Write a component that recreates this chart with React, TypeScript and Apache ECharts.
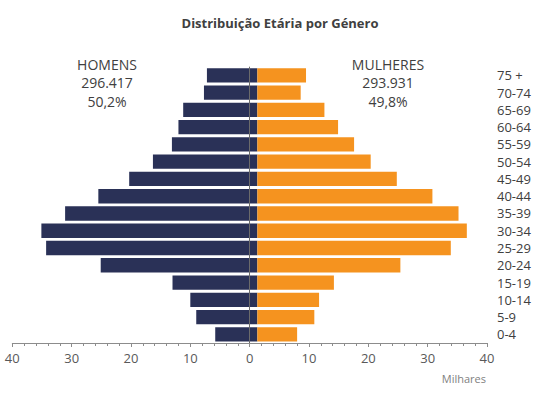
import React, { useEffect, useRef } from "react";
import * as echarts from "echarts";

const categories = ["0-4", "5-9", "10-14", "15-19", "20-24", "25-29", "30-34", "35-39", "40-44", "45-49", "50-54", "55-59", "60-64", "65-69", "70-74", "75 +"];
const men = [7.1, 10.3, 11.3, 14.3, 26.4, 35.6, 36.4, 32.4, 26.8, 21.6, 17.6, 14.4, 13.3, 12.5, 9.0, 8.5];
const women = [6.7, 9.6, 10.4, 12.9, 24.1, 32.6, 35.3, 33.9, 29.5, 23.5, 19.1, 16.3, 13.6, 11.3, 7.3, 8.2];
const tickLabels = { min: -40, max: 40, step: 10 };
const menTotals = ["HOMENS", "296.417", "50,2%"];
const womenTotals = ["MULHERES", "293.931", "49,8%"];
const title = "Distribuição Etária por Género";
const unitLabel = "Milhares";

// the bars in the original meet slightly right of the axis zero
const BAR_ORIGIN = 1.3;

const FONT = "'Open Sans', 'Noto Sans', sans-serif";
const NAVY = "#2a3157";
const ORANGE = "#f5931f";
const TEXT = "#404040";

export default function App() {
  const ref = useRef<HTMLDivElement>(null);
  useEffect(() => {
    if (!ref.current) return;
    const chart = echarts.init(ref.current, null, { renderer: "svg" });
    const base = categories.map(() => BAR_ORIGIN);
    chart.setOption({
      animation: false,
      backgroundColor: "#ffffff",
      textStyle: { fontFamily: FONT },
      title: {
        text: title,
        left: 275,
        top: 11,
        textAlign: "center",
        textStyle: { fontFamily: FONT, fontSize: 13, fontWeight: "bold", color: TEXT },
      },
      grid: { left: 12.3, right: 56, top: 66.7, bottom: 54, outerBoundsMode: "none", containLabel: false },
      xAxis: {
        type: "value",
        min: tickLabels.min,
        max: tickLabels.max,
        interval: tickLabels.step,
        axisLine: { show: true, onZero: false, lineStyle: { color: "#8c8c8c", width: 1 } },
        axisTick: { show: true, length: 4, lineStyle: { color: "#8c8c8c" } },
        minorTick: { show: true, splitNumber: 5, length: 3, lineStyle: { color: "#8c8c8c" } },
        splitLine: { show: false },
        axisLabel: {
          margin: 8,
          fontFamily: FONT,
          fontSize: 13,
          color: "#595959",
          formatter: (v: number) => String(Math.abs(v)),
        },
      },
      yAxis: {
        type: "category",
        data: categories,
        position: "right",
        axisLine: { show: false, onZero: false },
        axisTick: { show: false },
        axisLabel: { margin: 10, align: "left", fontFamily: FONT, fontSize: 13, color: TEXT },
      },
      graphic: [
        {
          type: "text",
          x: 107,
          y: 55,
          style: {
            text: menTotals.join("\n"),
            fontFamily: FONT,
            fontSize: 14,
            lineHeight: 18.5,
            fill: TEXT,
            align: "center",
            verticalAlign: "top",
          },
        },
        {
          type: "text",
          x: 388,
          y: 55,
          style: {
            text: womenTotals.join("\n"),
            fontFamily: FONT,
            fontSize: 14,
            lineHeight: 18.5,
            fill: TEXT,
            align: "center",
            verticalAlign: "top",
          },
        },
        {
          type: "text",
          right: 57,
          top: 373,
          style: { text: unitLabel, fontFamily: FONT, fontSize: 11, fill: "#7f7f7f" },
        },
      ],
      series: [
        {
          name: "mBase",
          type: "bar",
          stack: "m",
          stackStrategy: "all",
          data: base,
          silent: true,
          itemStyle: { color: "transparent" },
          barCategoryGap: "17%",
          barGap: "-100%",
        },
        {
          name: "Homens",
          type: "bar",
          stack: "m",
          stackStrategy: "all",
          data: men.map((v) => -v),
          itemStyle: { color: NAVY },
          barCategoryGap: "17%",
          barGap: "-100%",
          markLine: {
            silent: true,
            symbol: "none",
            label: { show: false },
            lineStyle: { color: "#6b6b6b", width: 1, type: "solid" },
            data: [{ xAxis: 0 }],
          },
        },
        {
          name: "fBase",
          type: "bar",
          stack: "f",
          data: base,
          silent: true,
          itemStyle: { color: "transparent" },
          barCategoryGap: "17%",
          barGap: "-100%",
        },
        {
          name: "Mulheres",
          type: "bar",
          stack: "f",
          data: women,
          itemStyle: { color: ORANGE },
          barCategoryGap: "17%",
          barGap: "-100%",
        },
      ],
    });
    return () => chart.dispose();
  }, []);
  return (
    <div
      ref={ref}
      style={{ position: "fixed", left: 0, top: 0, width: 543, height: 397, background: "#fff" }}
    />
  );
}
